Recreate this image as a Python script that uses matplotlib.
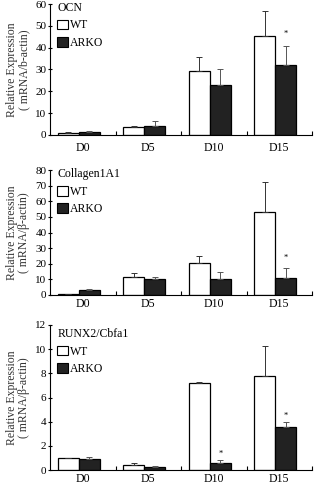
import numpy as np
import matplotlib
matplotlib.use('Agg')
import matplotlib.pyplot as plt
from matplotlib.patches import Patch

plt.rcParams['font.family'] = ['Liberation Serif', 'DejaVu Serif']
plt.rcParams['font.size'] = 8

days = ['D0', 'D5', 'D10', 'D15']

# OCN
ocn_wt = [1.0, 3.5, 29.3, 45.5]
ocn_wt_err = [0.3, 0.6, 6.3, 11.3]
ocn_ko = [1.5, 4.0, 23.0, 32.0]
ocn_ko_err = [0.5, 2.3, 7.0, 8.6]
ocn_star = [None, None, None, 46.5]

# Collagen1A1
col_wt = [0.5, 11.5, 20.5, 53.0]
col_wt_err = [0.2, 2.5, 4.5, 19.0]
col_ko = [3.5, 10.5, 10.0, 11.0]
col_ko_err = [0.6, 1.0, 5.0, 6.0]
col_star = [None, None, None, 23.5]

# RUNX2/Cbfa1
run_wt = [1.0, 0.4, 7.2, 7.8]
run_wt_err = [0.02, 0.15, 0.1, 2.5]
run_ko = [0.95, 0.25, 0.6, 3.6]
run_ko_err = [0.15, 0.1, 0.2, 0.4]
run_star = [None, None, 1.35, 4.45]

panels = [
    ('OCN', 'mRNA/b-actin', ocn_wt, ocn_wt_err, ocn_ko, ocn_ko_err, ocn_star, 60, 10),
    ('Collagen1A1', 'mRNA/\u03b2-actin', col_wt, col_wt_err, col_ko, col_ko_err, col_star, 80, 10),
    ('RUNX2/Cbfa1', 'mRNA/\u03b2-actin', run_wt, run_wt_err, run_ko, run_ko_err, run_star, 12, 2),
]

# axes boxes in figure pixels (top, bottom), x-label pad, legend anchor y
W, H = 316, 490
boxes = [(4, 135, 5, 1.05), (170, 295, 2.5, 1.05), (325, 470, 2.5, 1.01)]

fig = plt.figure(figsize=(W / 100, H / 100), dpi=100)

x = np.arange(len(days))
w = 0.32
off = -0.06
for (title, unit, wt, wte, ko, koe, star, ymax, step), (top, bot, pad, ly) in zip(panels, boxes):
    ax = fig.add_axes([50 / W, 1 - bot / H, 262 / W, (bot - top) / H])
    ax.bar(x + off - w / 2, wt, w, color='white', edgecolor='black', linewidth=0.9,
           yerr=[np.zeros(4), wte], error_kw=dict(ecolor='#333333', elinewidth=0.7, capsize=2.5, capthick=0.7))
    ax.bar(x + off + w / 2, ko, w, color='#222222', edgecolor='black', linewidth=0.9,
           yerr=[np.zeros(4), koe], error_kw=dict(ecolor='#555555', elinewidth=0.7, capsize=2.5, capthick=0.7))
    for i, s in enumerate(star):
        if s is not None:
            ax.text(x[i] + off + w / 2, s, '*', ha='center', va='center', fontsize=6)
    ax.set_xlim(-0.5, 3.5)
    ax.set_ylim(0, ymax)
    ax.set_yticks(np.arange(0, ymax + step / 2, step))
    ax.set_xticks(x)
    ax.set_xticklabels(days, fontsize=8.5)
    ax.set_xticks(np.arange(0.5, 3.6, 1), minor=True)
    ax.tick_params(axis='x', which='major', length=0, pad=pad)
    ax.tick_params(axis='x', which='minor', length=3, direction='in', width=0.8)
    ax.tick_params(axis='y', length=3, direction='inout', width=0.8, labelsize=8, pad=1)
    ax.spines['top'].set_visible(False)
    ax.spines['right'].set_visible(False)
    for sp in ('left', 'bottom'):
        ax.spines[sp].set_linewidth(0.8)
    ax.set_ylabel('Relative Expression\n( ' + unit + ')', fontsize=8.5, color='#333333',
                  linespacing=1.0, labelpad=4)
    handles = [Patch(facecolor='white', edgecolor='black', linewidth=0.8),
               Patch(facecolor='#222222', edgecolor='black', linewidth=0.8)]
    leg = ax.legend(handles, ['WT', 'ARKO'], title=title, loc='upper left', frameon=False,
                    handlelength=0.9, handleheight=0.9, handletextpad=0.15, labelspacing=0.45,
                    fontsize=8.5, title_fontsize=8.5, alignment='left',
                    borderaxespad=0.0, bbox_to_anchor=(0.01, ly))

fig.savefig('out.png', dpi=100)
